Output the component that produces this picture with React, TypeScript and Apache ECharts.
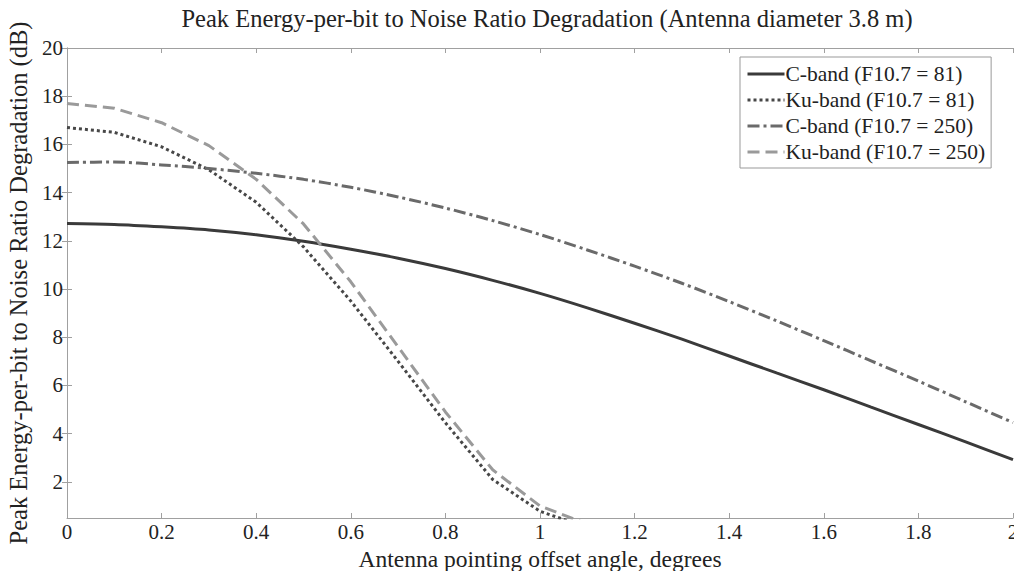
import React, { useEffect, useRef } from "react";
import * as echarts from "echarts";

const xValues = [0, 0.1, 0.2, 0.3, 0.4, 0.5, 0.6, 0.7, 0.8, 0.9, 1.0, 1.1, 1.2, 1.3, 1.4, 1.5, 1.6, 1.7, 1.8, 1.9, 2.0];
const cBand81 = [12.72, 12.68, 12.58, 12.45, 12.25, 11.98, 11.65, 11.28, 10.85, 10.36, 9.82, 9.22, 8.58, 7.92, 7.22, 6.52, 5.82, 5.1, 4.38, 3.66, 2.92];
const cBand250 = [15.25, 15.27, 15.15, 15.0, 14.8, 14.55, 14.22, 13.82, 13.36, 12.84, 12.26, 11.62, 10.95, 10.24, 9.48, 8.68, 7.86, 7.02, 6.18, 5.32, 4.46];
const kuX = [0, 0.1, 0.2, 0.3, 0.4, 0.5, 0.6, 0.7, 0.8, 0.9, 1.0, 1.1];
const kuBand81 = [16.7, 16.5, 15.9, 14.95, 13.6, 11.75, 9.5, 7.0, 4.45, 2.1, 0.78, 0.1];
const kuBand250 = [17.7, 17.5, 16.9, 15.95, 14.55, 12.7, 10.3, 7.6, 4.9, 2.5, 1.0, 0.25];
const yTicks = [2, 4, 6, 8, 10, 12, 14, 16, 18, 20];
const seriesNames = ["C-band (F10.7 = 81)", "Ku-band (F10.7 = 81)", "C-band (F10.7 = 250)", "Ku-band (F10.7 = 250)"];

const FONT = "'Liberation Serif', 'Times New Roman', serif";
const AXIS = "#a0a0a0";

export default function App() {
  const ref = useRef<HTMLDivElement>(null);
  useEffect(() => {
    const chart = echarts.init(ref.current!, null, { renderer: "svg" });
    const pair = (xs: number[], ys: number[]) => xs.map((x, i) => [x, ys[i]]);
    const tickStyle = { show: true, inside: true, length: 5, lineStyle: { color: AXIS } };
    chart.setOption({
      animation: false,
      backgroundColor: "#fff",
      title: {
        text: "Peak Energy-per-bit to Noise Ratio Degradation (Antenna diameter 3.8 m)",
        left: 542,
        textAlign: "center",
        top: 1,
        textStyle: { fontFamily: FONT, fontSize: 24.5, fontWeight: "normal", color: "#222" },
      },
      legend: {
        orient: "vertical",
        left: 740,
        top: 57,
        padding: [5, 6, 4, 6],
        itemWidth: 37,
        itemHeight: 14,
        itemGap: 2,
        borderColor: "#999",
        borderWidth: 1,
        borderRadius: 0,
        backgroundColor: "#fff",
        itemStyle: { opacity: 0 },
        lineStyle: { width: 3 },
        data: seriesNames,
        textStyle: { fontFamily: FONT, fontSize: 21.5, color: "#222", lineHeight: 24, padding: [0, 0, 0, -4] },
      },
      grid: { left: 67, right: 1, top: 48, bottom: 53, containLabel: false, outerBoundsMode: "none" },
      xAxis: [
        {
          type: "value",
          min: 0,
          max: 2,
          interval: 0.2,
          name: "Antenna pointing offset angle, degrees",
          nameLocation: "middle",
          nameGap: 25,
          nameTextStyle: { fontFamily: FONT, fontSize: 23.5, color: "#222" },
          axisLine: { show: true, lineStyle: { color: AXIS } },
          axisTick: tickStyle,
          splitLine: { show: false },
          axisLabel: {
            fontFamily: FONT,
            fontSize: 21,
            color: "#222",
            margin: 3,
            formatter: (v: number) => String(Math.round(v * 10) / 10),
          },
        },
        {
          type: "value",
          position: "top",
          min: 0,
          max: 2,
          interval: 0.2,
          axisLine: { show: true, lineStyle: { color: AXIS } },
          axisTick: tickStyle,
          axisLabel: { show: false },
          splitLine: { show: false },
        },
      ],
      yAxis: [
        {
          type: "value",
          min: 0.5,
          max: 20,
          name: "Peak Energy-per-bit to Noise Ratio Degradation (dB)",
          nameLocation: "middle",
          nameGap: 29,
          nameTextStyle: { fontFamily: FONT, fontSize: 24.5, color: "#222" },
          axisLine: { show: true, lineStyle: { color: AXIS } },
          axisTick: { ...tickStyle, customValues: yTicks },
          splitLine: { show: false },
          axisLabel: { fontFamily: FONT, fontSize: 21, color: "#222", margin: 4, customValues: yTicks },
        },
        {
          type: "value",
          position: "right",
          min: 0.5,
          max: 20,
          axisLine: { show: true, lineStyle: { color: AXIS } },
          axisTick: { ...tickStyle, customValues: yTicks },
          axisLabel: { show: false, customValues: yTicks },
          splitLine: { show: false },
        },
      ],
      series: [
        {
          name: seriesNames[0],
          type: "line",
          smooth: 0.3,
          symbol: "none",
          clip: true,
          data: pair(xValues, cBand81),
          lineStyle: { color: "#3a3a3a", width: 3, type: "solid" },
          itemStyle: { color: "#3a3a3a" },
        },
        {
          name: seriesNames[1],
          type: "line",
          symbol: "none",
          clip: true,
          data: pair(kuX, kuBand81),
          lineStyle: { color: "#474747", width: 3, type: [3, 3] },
          itemStyle: { color: "#474747" },
        },
        {
          name: seriesNames[2],
          type: "line",
          smooth: 0.3,
          symbol: "none",
          clip: true,
          data: pair(xValues, cBand250),
          lineStyle: { color: "#6a6a6a", width: 3, type: [12, 4, 3, 4] },
          itemStyle: { color: "#6a6a6a" },
        },
        {
          name: seriesNames[3],
          type: "line",
          symbol: "none",
          clip: true,
          data: pair(kuX, kuBand250),
          lineStyle: { color: "#9a9a9a", width: 3, type: [12, 6] },
          itemStyle: { color: "#9a9a9a" },
        },
      ],
    });
    return () => chart.dispose();
  }, []);
  return <div ref={ref} style={{ width: 1014, height: 571, position: "absolute", left: 0, top: 0 }} />;
}
